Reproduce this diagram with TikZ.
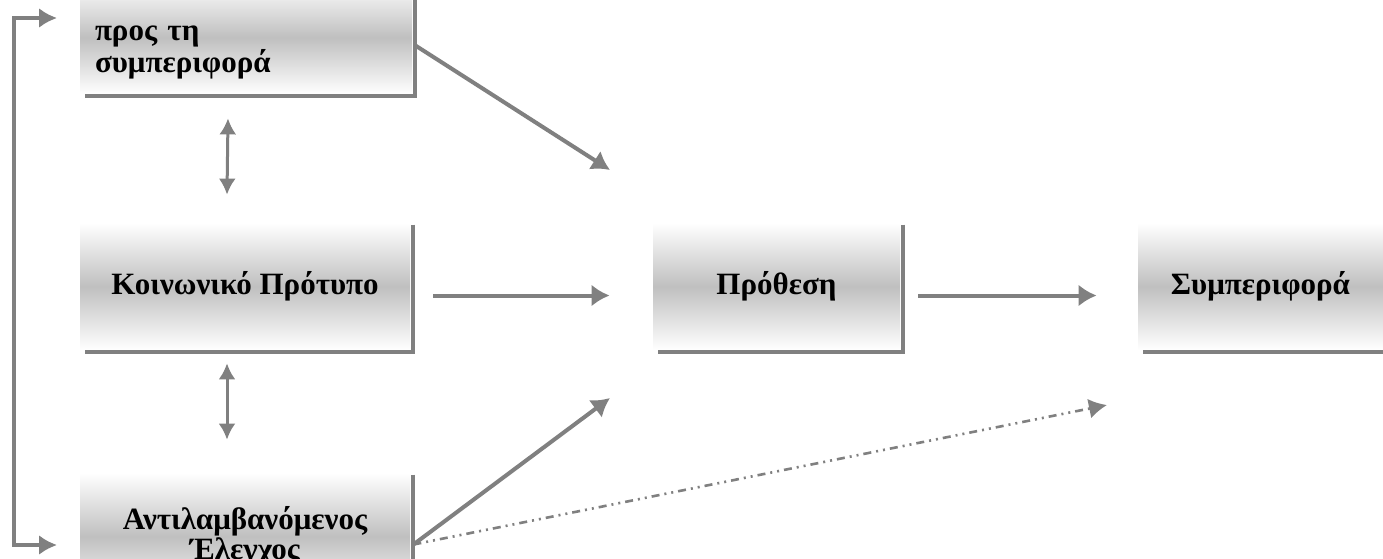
\documentclass[tikz,border=0pt]{standalone}
\usepackage{fontspec}
\setmainfont{Liberation Serif}
\usetikzlibrary{arrows.meta}

\tikzset{
  box/.style={minimum width=#1, minimum height=63.5pt, inner sep=0pt,
    top color=white, bottom color=white, middle color=gray!50,
    font=\bfseries\fontsize{15.5}{13}\selectfont, align=center},
  boxshade/.style={draw=gray, line width=2pt},
  link/.style={draw=gray, line width=2pt, -{Latex[length=9pt,width=11pt]}},
  twoway/.style={draw=gray, line width=1.5pt, {Latex[length=8pt,width=8.5pt]}-{Latex[length=8pt,width=8.5pt]}},
  dashdot/.style={draw=gray, line width=1.3pt,
    dash pattern=on 4pt off 2.5pt on 1pt off 2.5pt on 1pt off 2.5pt,
    -{Latex[length=9pt,width=10pt]}}
}

\begin{document}
\begin{tikzpicture}[x=0.5pt,y=-0.5pt]

  \fill[white] (0,0) rectangle (1383,558);
  \clip (0,0) rectangle (1383,558);

  % boxes
  \node[box=166pt, minimum height=56.5pt, text width=151pt, inner xsep=7.5pt, align=left,
    font=\bfseries\fontsize{15.5}{13}\selectfont] (att) at (246,37.5)
    {\strut\\προς τη\\συμπεριφορά};
  \node[box=165pt] (soc) at (245,286.5) {Κοινωνικό Πρότυπο};
  \node[box=123.5pt] (int) at (776.5,286.5) {Πρόθεση};
  \node[box=122.5pt] (beh) at (1260.5,286.5) {Συμπεριφορά};
  \node[box=165pt, font=\bfseries\fontsize{15.5}{12}\selectfont] (pbc) at (245,536.5)
    {Αντιλαμβανόμενος\\Έλεγχος};

  % shadows
  \foreach \b in {att,soc,int,beh,pbc}
    \draw[boxshade] ([shift={(3,2)}]\b.north east) |- ([shift={(5,2)}]\b.south west);

  % free ends
  \coordinate (int-top) at (610,170);
  \coordinate (int-bot) at (610,398);
  \coordinate (beh-bot) at (1107,405);
  \coordinate (fb-top) at (57,18);
  \coordinate (fb-bot) at (57,545);
  \coordinate (fb-tl) at (14,18);
  \coordinate (fb-bl) at (14,545);

  % draw arrows
  \draw[link] ([shift={(3,8)}]att.east) -- (int-top);
  \draw[link] ([shift={(23,9)}]soc.east) -- ([shift={(-43,9)}]int.west);
  \draw[link] ([shift={(18,9)}]int.east) -- ([shift={(-41,9)}]beh.west);
  \draw[link] ([shift={(3,8)}]pbc.east) -- (int-bot);
  \draw[dashdot] ([shift={(3,8)}]pbc.east) -- (beh-bot);

  \draw[twoway] ([shift={(-18,24)}]att.south) -- ([shift={(-18,-28)}]soc.north);
  \draw[twoway] ([shift={(-18,13)}]soc.south) -- ([shift={(-18,-33)}]pbc.north);

  \draw[draw=gray, line width=2pt, {Latex[length=9pt,width=10pt]}-{Latex[length=9pt,width=10pt]}]
    (fb-top) -- (fb-tl) -- (fb-bl) -- (fb-bot);

\end{tikzpicture}
\end{document}
